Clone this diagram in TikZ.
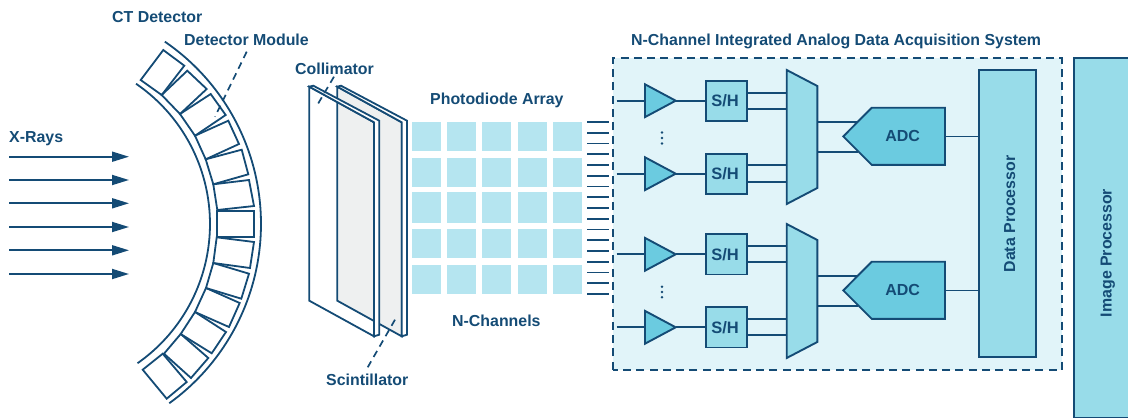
\documentclass[tikz,border=0pt]{standalone}
\usepackage{fontspec}
\setmainfont{Liberation Sans}
\usetikzlibrary{arrows.meta}
\definecolor{navy}{HTML}{144B75}
\definecolor{panel}{HTML}{E1F4F9}
\definecolor{boxfill}{HTML}{98DCE9}
\definecolor{ampfill}{HTML}{6BCBE0}
\definecolor{cell}{HTML}{B5E5F0}
\definecolor{plate}{HTML}{EEF0F0}
\tikzset{
  wire/.style={draw=navy,line width=1.8pt},
  module/.style={draw=navy,line width=1.8pt,line join=miter},
  leader/.style={draw=navy,line width=1.7pt,dash pattern=on 7pt off 5pt},
  ray/.style={draw=navy,line width=1.8pt,-{Triangle[length=17pt,width=10pt]}},
  lbl/.style={text=navy,inner sep=0pt,font=\bfseries\fontsize{15.9}{18}\selectfont},
  blockst/.style={draw=navy,line width=1.9pt,line join=miter},
  shbox/.style={blockst,fill=boxfill,minimum width=40.7pt,minimum height=40.3pt,inner sep=0pt,text=navy,font=\bfseries\fontsize{16.5}{18}\selectfont},
  tallbox/.style={blockst,fill=boxfill,inner sep=0pt},
  amp/.style={blockst,fill=ampfill},
  mux/.style={blockst,fill=boxfill},
}
% id, centre y, first output y, second output y
\newcommand{\chanrow}[4]{%
  \coordinate (in#1) at (616.7,#2);
  \coordinate (ampin#1) at (645,#2);
  \coordinate (tip#1) at (675.7,#2);
  \coordinate (mia#1) at (786.7,#3);
  \coordinate (mib#1) at (786.7,#4);
  \node[shbox] (sh#1) at (726.35,#2) {\kern-2.5pt S/H};
  \draw[wire] (in#1) -- (ampin#1);
  \draw[wire] (tip#1) -- (sh#1.west);
  \draw[wire] (sh#1.east |- mia#1) -- (mia#1);
  \draw[wire] (sh#1.east |- mib#1) -- (mib#1);
  \draw[amp] (645,#2-16.4) -- (tip#1) -- (645,#2+16.4) -- cycle;
}
% id, top y of left side
\newcommand{\muxadc}[2]{%
  \coordinate (mo#1a) at (817.3,#2+51.7);
  \coordinate (mo#1b) at (817.3,#2+82);
  \coordinate (ai#1a) at (858,#2+51.7);
  \coordinate (ai#1b) at (858,#2+82);
  \coordinate (ao#1) at (945,#2+66.4);
  \draw[wire] (mo#1a) -- (ai#1a);
  \draw[wire] (mo#1b) -- (ai#1b);
  \draw[wire] (ao#1) -- (ao#1 -| dp.west);
  \draw[mux] (786.7,#2) -- (817.3,#2+16) -- (817.3,#2+118) -- (786.7,#2+134) -- cycle;
  \draw[amp] (843.3,#2+66.4) -- (871.7,#2+37.7) -- (945,#2+37.7) -- (945,#2+94.8) -- (871.7,#2+94.8) -- cycle;
  \node[text=navy,inner sep=0pt,font=\bfseries\fontsize{16}{18}\selectfont] (adc#1) at (902.7,#2+66.4) {ADC};
}
\begin{document}
\begin{tikzpicture}[x=1pt,y=-1pt]
\useasboundingbox (0,0) rectangle (1128,418);
\clip (0,0) rectangle (1128,418);

% X-rays
\foreach \i/\yy in {1/156.7,2/180,3/203.3,4/227,5/250.3,6/274}{
  \coordinate (rs\i) at (9,\yy);
  \coordinate (re\i) at (129,\yy);
  \draw[ray] (rs\i) -- (re\i);
}
\node[lbl,anchor=base west] (xrays) at (9,142.7) {X-Rays};

% detector arcs
\coordinate (c) at (40,224);
\draw[module] ([shift={(55.6:170pt)}]c) arc[start angle=55.6,end angle=-55,radius=170pt];
\draw[module] ([shift={(55.6:221pt)}]c) arc[start angle=55.6,end angle=-54.2,radius=221pt];

% detector modules
\draw[module] (163.3,50) -- (184.3,65.7) -- (161.7,95) -- (140.7,80) -- cycle;
\draw[module] (187.3,70.7) -- (206.7,89) -- (180,114) -- (161.7,95) -- cycle;
\draw[module] (210.7,94) -- (225.7,115) -- (195,135.7) -- (180,114) -- cycle;
\draw[module] (228.3,120.7) -- (239,144) -- (205.7,159.3) -- (195,135.7) -- cycle;
\draw[module] (241.7,149.7) -- (248.3,174.3) -- (213.3,184.3) -- (205.7,159.3) -- cycle;
\draw[module] (249,180) -- (254,206) -- (217.3,210) -- (213.3,184.3) -- cycle;
\draw[module] (216.7,211.3) -- (254.3,211.3) -- (254.3,237) -- (216.7,237) -- cycle;
\draw[module] (216.7,237.3) -- (254,242) -- (250,268) -- (213.3,263) -- cycle;
\draw[module] (213.3,263) -- (249,273.7) -- (241.3,298.7) -- (206,288) -- cycle;
\draw[module] (206,288) -- (239.7,303) -- (229,327) -- (195,312) -- cycle;
\draw[module] (195,312) -- (226,332) -- (211.7,353.3) -- (180.7,334) -- cycle;
\draw[module] (180.7,334) -- (208.3,358) -- (191,378) -- (164,353.7) -- cycle;
\draw[module] (162.7,353.7) -- (186.7,382) -- (166.7,398.7) -- (142.7,369.7) -- cycle;

\node[lbl,anchor=base west] (ctd) at (112,22) {CT Detector};
\node[lbl,anchor=base west] (dm) at (184,45) {Detector Module};
\coordinate (dma) at (246.7,51.7);
\coordinate (dmb) at (215,116.7);
\draw[leader] (dma) -- (dmb);

% scintillator plate
\draw[module,fill=plate] (337.3,86.7) -- (401.7,122.3) -- (401.7,336.3) -- (337.3,300.7) -- cycle;
\draw[module,fill=white] (337.3,86.7) -- (341,85.7) -- (407,120.7) -- (407,334.7) -- (401.7,336.3) -- (401.7,122.3) -- cycle;
% collimator plate
\draw[module] (309.3,86.7) -- (374,122.3) -- (374,336.3) -- (309.3,300.7) -- cycle;
\draw[module,fill=white] (309.3,86.7) -- (313.3,85.7) -- (379.3,120.7) -- (379.3,334.7) -- (374,336.3) -- (374,122.3) -- cycle;
\node[lbl,anchor=base west] (coll) at (295,74) {Collimator};
\coordinate (ca) at (334,76.7);
\coordinate (cb) at (316.7,106);
\draw[leader] (ca) -- (cb);
\node[lbl,anchor=base west] (scin) at (326,385.3) {Scintillator};
\coordinate (sa) at (395,319.7);
\coordinate (sb) at (367.7,367.3);
\draw[leader] (sa) -- (sb);

% photodiode array
\foreach \xa/\xb in {412/441,447/476,482/511,518/547,553/582}{
  \foreach \ya/\yb in {122/151,158/187,192/223,229/258,265/294}{
    \fill[cell] (\xa,\ya) rectangle (\xb,\yb);
  }
}
\node[lbl,anchor=base west] (pa) at (430,104) {Photodiode Array};
\node[lbl,anchor=base west] (nc) at (452,326) {N-Channels};
\foreach \i in {0,...,16}{
  \coordinate (la\i) at (587.3,122+10.75*\i);
  \coordinate (lb\i) at (609,122+10.75*\i);
  \draw[wire] (la\i) -- (lb\i);
}

% acquisition panel
\fill[panel] (613,58) rectangle (1061.7,369.7);
\draw[draw=navy,line width=2pt,dash pattern=on 8pt off 5.3pt] (613,369.7) -- (613,58) -- (1061.7,58) -- (1061.7,369.7) -- cycle;
\node[lbl,anchor=base west] (title) at (631,45) {N-Channel Integrated Analog Data Acquisition System};

% data processor
\node[tallbox,minimum width=57pt,minimum height=287pt] (dp) at (1007.2,213.8) {};
\node[lbl,rotate=90,anchor=base] (dpt) at (1015,214) {Data Processor};

% channels
\chanrow{1}{100.7}{92.7}{109}
\chanrow{2}{173.7}{165.3}{181.7}
\chanrow{3}{254.3}{245.7}{262}
\chanrow{4}{327.3}{319}{335.3}
\muxadc{1}{70}
\muxadc{2}{224}

% vertical dots
\foreach \yy in {132.5,138,143.5,286.7,292,297.3}{
  \fill[navy] (662,\yy) circle[radius=1.4pt];
}

% image processor
\node[tallbox,minimum width=70pt,minimum height=359.5pt] (ip) at (1109.3,237.7) {};
\node[lbl,rotate=90,anchor=base] (ipt) at (1111.7,253) {Image Processor};
\end{tikzpicture}
\end{document}
